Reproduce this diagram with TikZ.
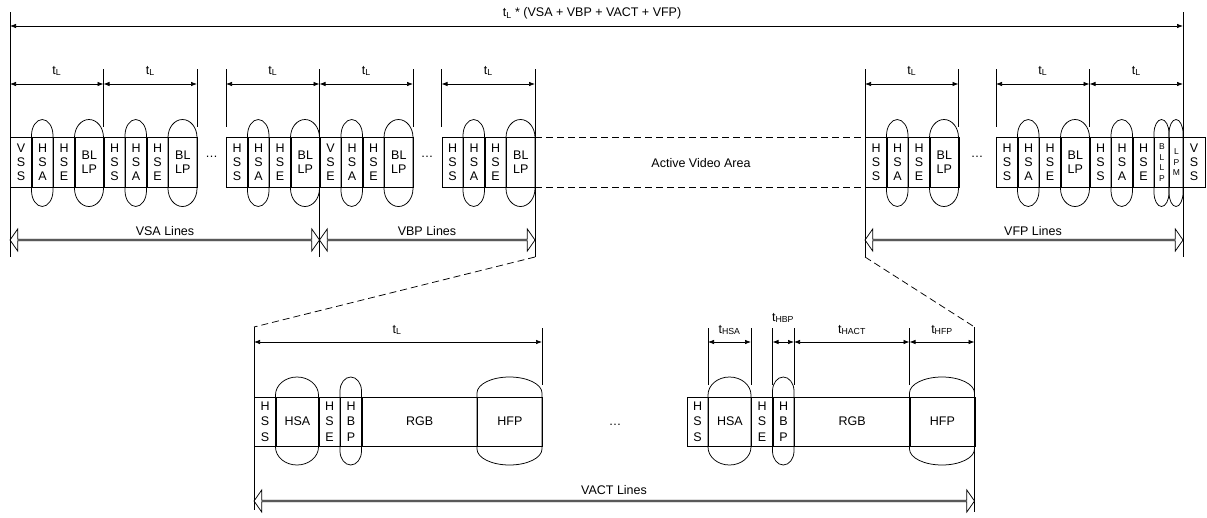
\documentclass[tikz,border=0pt]{standalone}
\usepackage{fontspec}
\setmainfont{Liberation Sans}
\usetikzlibrary{arrows.meta,shapes.arrows}

% left x, right x, top y, bottom y, cap height
\newcommand{\capsule}[5]{%
	\draw (#1,#3+#5) -- (#1,#4-#5)
	arc[start angle=180,end angle=0,x radius={(#2-#1)/2},y radius=#5]
	-- (#2,#3+#5)
	arc[start angle=0,end angle=-180,x radius={(#2-#1)/2},y radius=#5] -- cycle;}

\tikzset{
	cell/.style={draw, inner sep=0pt, minimum width=#1, minimum height=50pt, anchor=west, align=center},
	cell/.default=21.5pt,
	lcell/.style={cell=#1, minimum height=49pt, font=\fontsize{12.5}{15.5}\selectfont},
	lcell/.default=21.5pt,
	slim/.style={cell=#1, font=\fontsize{8.5}{10.5}\selectfont},
	tickline/.style={line width=0.7pt},
	dimarrow/.style={<->, line width=0.7pt},
	dashline/.style={dash pattern=on 7pt off 4pt},
	spanarrow/.style={double arrow, draw, inner sep=0pt, minimum width=22pt, double arrow head extend=6pt, double arrow tip angle=110}
}

\begin{document}
\begin{tikzpicture}[x=1pt,y=-1pt,line width=0.75pt,>={Latex[length=6pt,width=4.5pt]},font=\fontsize{12.5}{14}\selectfont]
		\useasboundingbox (0,0) rectangle (1207,517);
		%whole frame
		\draw[tickline] (10,12) to (10,257);
		\draw[tickline] (1183,12) to (1183,257);
		\draw[dimarrow] (10,26) to (1183,26);
		\node (tframe) at (592,13) {t\textsubscript{L} * (VSA + VBP + VACT + VFP)};
		%line ticks
		\draw[tickline] (103.5,69) to (103.5,127);
		\draw[tickline] (197,69) to (197,127);
		\draw[tickline] (226,69) to (226,127);
		\draw[tickline] (319.5,69) to (319.5,257);
		\draw[tickline] (413,69) to (413,127);
		\draw[tickline] (441.5,69) to (441.5,127);
		\draw[tickline] (535,69) to (535,257);
		\draw[tickline] (865,69) to (865,257);
		\draw[tickline] (958.5,69) to (958.5,127);
		\draw[tickline] (996,69) to (996,127);
		\draw[tickline] (1089.5,69) to (1089.5,127);
		%line times
		\draw[dimarrow] (10,84) to (103.5,84);
		\node (tl1) at (56.75,71) {t\textsubscript{L}};
		\draw[dimarrow] (103.5,84) to (197,84);
		\node (tl2) at (150.25,71) {t\textsubscript{L}};
		\draw[dimarrow] (226,84) to (319.5,84);
		\node (tl3) at (272.75,71) {t\textsubscript{L}};
		\draw[dimarrow] (319.5,84) to (413,84);
		\node (tl4) at (366.25,71) {t\textsubscript{L}};
		\draw[dimarrow] (441.5,84) to (535,84);
		\node (tl5) at (488.25,71) {t\textsubscript{L}};
		\draw[dimarrow] (865,84) to (958.5,84);
		\node (tl6) at (911.75,71) {t\textsubscript{L}};
		\draw[dimarrow] (996,84) to (1089.5,84);
		\node (tl7) at (1042.75,71) {t\textsubscript{L}};
		\draw[dimarrow] (1089.5,84) to (1183,84);
		\node (tl8) at (1136.25,71) {t\textsubscript{L}};
		
		%VSA lines
		\node[cell] (vss1) at (10,162.5) {V\\S\\S};
		\node[cell] (hsa1) at (31.5,162.5) {H\\S\\A};
		\node[cell] (hse1) at (53,162.5) {H\\S\\E};
		\node[cell=29pt] (bllp1) at (74.5,162.5) {BL\\LP};
		\node[cell] (hss2) at (103.5,162.5) {H\\S\\S};
		\node[cell] (hsa2) at (125,162.5) {H\\S\\A};
		\node[cell] (hse2) at (146.5,162.5) {H\\S\\E};
		\node[cell=29pt] (bllp2) at (168,162.5) {BL\\LP};
		\node (dots1) at (211.5,157) {\ldots};
		\node[cell] (hss3) at (226,162.5) {H\\S\\S};
		\node[cell] (hsa3) at (247.5,162.5) {H\\S\\A};
		\node[cell] (hse3) at (269,162.5) {H\\S\\E};
		\node[cell=29pt] (bllp3) at (290.5,162.5) {BL\\LP};
		%VBP lines
		\node[cell] (vse4) at (319.5,162.5) {V\\S\\E};
		\node[cell] (hsa4) at (341,162.5) {H\\S\\A};
		\node[cell] (hse4) at (362.5,162.5) {H\\S\\E};
		\node[cell=29pt] (bllp4) at (384,162.5) {BL\\LP};
		\node (dots2) at (427,157) {\ldots};
		\node[cell] (hss5) at (441.5,162.5) {H\\S\\S};
		\node[cell] (hsa5) at (463,162.5) {H\\S\\A};
		\node[cell] (hse5) at (484.5,162.5) {H\\S\\E};
		\node[cell=29pt] (bllp5) at (506,162.5) {BL\\LP};
		%active area
		\draw[dashline] (535,137.5) to (865,137.5);
		\draw[dashline] (535,187.5) to (865,187.5);
		\node (active) at (701,163) {Active Video Area};
		%VFP lines
		\node[cell] (hss6) at (865,162.5) {H\\S\\S};
		\node[cell] (hsa6) at (886.5,162.5) {H\\S\\A};
		\node[cell] (hse6) at (908,162.5) {H\\S\\E};
		\node[cell=29pt] (bllp6) at (929.5,162.5) {BL\\LP};
		\node (dots3) at (977,157) {\ldots};
		\node[cell] (hss7) at (996,162.5) {H\\S\\S};
		\node[cell] (hsa7) at (1017.5,162.5) {H\\S\\A};
		\node[cell] (hse7) at (1039,162.5) {H\\S\\E};
		\node[cell=29pt] (bllp7) at (1060.5,162.5) {BL\\LP};
		\node[cell] (hss8) at (1089.5,162.5) {H\\S\\S};
		\node[cell] (hsa8) at (1111,162.5) {H\\S\\A};
		\node[cell] (hse8) at (1132.5,162.5) {H\\S\\E};
		\node[slim=15pt] (bllp8) at (1154,162.5) {B\\L\\L\\P};
		\node[slim=14pt] (lpm8) at (1169,162.5) {L\\P\\M};
		\node[cell] (vss8) at (1183,162.5) {V\\S\\S};
		%ovals
		\capsule{31.5}{53}{119.5}{206.5}{16}
		\capsule{74.5}{103.5}{119.5}{206.5}{18}
		\capsule{125}{146.5}{119.5}{206.5}{16}
		\capsule{168}{197}{119.5}{206.5}{18}
		\capsule{247.5}{269}{119.5}{206.5}{16}
		\capsule{290.5}{319.5}{119.5}{206.5}{18}
		\capsule{341}{362.5}{119.5}{206.5}{16}
		\capsule{384}{413}{119.5}{206.5}{18}
		\capsule{463}{484.5}{119.5}{206.5}{16}
		\capsule{506}{535}{119.5}{206.5}{18}
		\capsule{886.5}{908}{119.5}{206.5}{16}
		\capsule{929.5}{958.5}{119.5}{206.5}{18}
		\capsule{1017.5}{1039}{119.5}{206.5}{16}
		\capsule{1060.5}{1089.5}{119.5}{206.5}{18}
		\capsule{1111}{1132.5}{119.5}{206.5}{16}
		\capsule{1154}{1169}{119.5}{206.5}{14}
		\capsule{1169}{1183}{119.5}{206.5}{14}
		%line counts
		\node[spanarrow, minimum height=309.5pt] (vsa) at (164.75,240) {};
		\node (vsatext) at (165,231) {VSA Lines};
		\node[spanarrow, minimum height=215.5pt] (vbp) at (427.25,240) {};
		\node (vbptext) at (427,231) {VBP Lines};
		\node[spanarrow, minimum height=318pt] (vfp) at (1024,240) {};
		\node (vfptext) at (1033,231) {VFP Lines};
		
		%zoom into one line
		\draw[dashline] (535,257) to (254,327);
		\draw[dashline] (865,257) to (974.5,327);
		\draw[tickline] (254,327) to (254,510);
		\draw[tickline] (974.5,327) to (974.5,512);
		\draw[tickline] (542,328) to (542,385);
		\draw[tickline] (708,328) to (708,385);
		\draw[tickline] (751,328) to (751,385);
		\draw[tickline] (772.5,328) to (772.5,385);
		\draw[tickline] (794,328) to (794,385);
		\draw[tickline] (909.5,328) to (909.5,385);
		\draw[dimarrow] (254,342) to (542,342);
		\node (tline) at (397,330) {t\textsubscript{L}};
		\draw[dimarrow] (708,342) to (751,342);
		\node (thsa) at (729.5,330) {t\textsubscript{HSA}};
		\draw[dimarrow] (772.5,342) to (794,342);
		\node (thbp) at (783,318) {t\textsubscript{HBP}};
		\draw[dimarrow] (794,342) to (909.5,342);
		\node (thact) at (852,330) {t\textsubscript{HACT}};
		\draw[dimarrow] (909.5,342) to (974.5,342);
		\node (thfp) at (942,330) {t\textsubscript{HFP}};
		%first active line
		\node[lcell] (lhss1) at (254,421.5) {H\\S\\S};
		\node[lcell=43pt] (lhsa1) at (275.5,421.5) {HSA};
		\node[lcell] (lhse1) at (318.5,421.5) {H\\S\\E};
		\node[lcell] (lhbp1) at (340,421.5) {H\\B\\P};
		\node[lcell=115.5pt] (lrgb1) at (361.5,421.5) {RGB};
		\node[lcell=65pt] (lhfp1) at (477,421.5) {HFP};
		\node (dots4) at (615,425) {\ldots};
		%last active line
		\node[lcell] (lhss2) at (686.5,421.5) {H\\S\\S};
		\node[lcell=43pt] (lhsa2) at (708,421.5) {HSA};
		\node[lcell] (lhse2) at (751,421.5) {H\\S\\E};
		\node[lcell] (lhbp2) at (772.5,421.5) {H\\B\\P};
		\node[lcell=115.5pt] (lrgb2) at (794,421.5) {RGB};
		\node[lcell=65pt] (lhfp2) at (909.5,421.5) {HFP};
		%ovals
		\capsule{275.5}{318.5}{377}{465}{18}
		\capsule{340}{361.5}{377}{465}{14}
		\capsule{477}{542}{377}{465}{16}
		\capsule{708}{751}{377}{465}{18}
		\capsule{772.5}{794}{377}{465}{14}
		\capsule{909.5}{974.5}{377}{465}{16}
		%VACT
		\node[spanarrow, minimum height=720.5pt] (vact) at (614.25,501) {};
		\node (vacttext) at (614,490) {VACT Lines};
	\end{tikzpicture}
\end{document}
